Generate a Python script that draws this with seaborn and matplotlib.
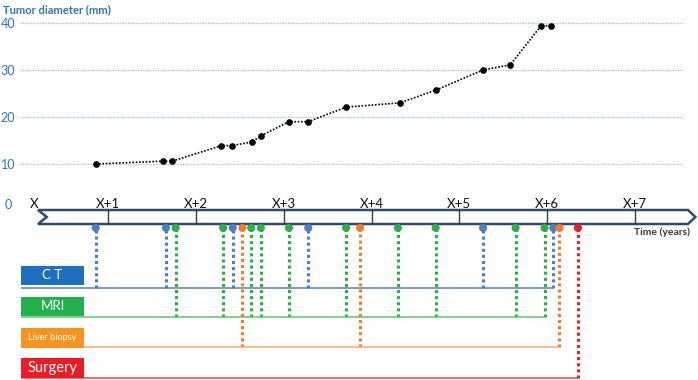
import matplotlib
matplotlib.use("Agg")
import matplotlib.pyplot as plt
import seaborn as sns
import pandas as pd
from matplotlib.patches import Polygon, Rectangle

# ---------------- data ----------------
scan_years = [0.86, 1.63, 1.73, 2.29, 2.41, 2.64, 2.74, 3.06, 3.28, 3.71,
              4.32, 4.73, 5.27, 5.58, 5.93, 6.04]
tumor_mm = [10.0, 10.6, 10.6, 13.9, 13.9, 14.7, 16.0, 19.0, 19.0, 22.1,
            23.0, 25.7, 30.0, 31.1, 39.4, 39.4]

ct_years = [0.86, 1.66, 2.42, 3.28, 5.27, 6.07]
mri_years = [1.77, 2.31, 2.63, 2.74, 3.06, 3.71, 4.30, 4.73, 5.64, 5.97]
biopsy_years = [2.53, 3.87, 6.14]
surgery_years = [6.35]

modalities = ["CT", "MRI", "Liver biopsy", "Surgery"]
modality_labels = ["C T", "MRI", "Liver biopsy", "Surgery"]
year_ticks = [0, 1, 2, 3, 4, 5, 6, 7]
year_labels = ["X", "X+1", "X+2", "X+3", "X+4", "X+5", "X+6", "X+7"]
diam_ticks = [10, 20, 30, 40]

# ---------------- style ----------------
sns.set_style("white")
plt.rcParams["font.family"] = ["Lato", "DejaVu Sans"]

dot_colors = {"CT": "#4A7FC6", "MRI": "#27B04B", "Liver biopsy": "#EE7D2A", "Surgery": "#EA1D2C"}
box_colors = {"CT": "#1F6FBF", "MRI": "#22B14C", "Liver biopsy": "#F7941D", "Surgery": "#ED1C24"}
lane_colors = {"CT": "#5B7FA8", "MRI": "#62C26F", "Liver biopsy": "#F6AD68", "Surgery": "#EF4040"}
label_sizes = {"CT": 9.5, "MRI": 9.5, "Liver biopsy": 6.6, "Surgery": 10.5}
blue_txt = "#2E75B6"

# layout (y in mm-units; below 0 is the timeline area)
lane_y = {"CT": -16.35, "MRI": -22.5, "Liver biopsy": -28.9, "Surgery": -35.45}
box_y = {"CT": (-15.75, -11.7), "MRI": (-22.4, -18.2),
         "Liver biopsy": (-29.05, -24.85), "Surgery": (-35.5, -31.2)}
box_x = (0.006, 0.73)
DOT_Y = -3.6
BAR_TOP, BAR_BOT = 0.21, -2.77
BAR_MID = (BAR_TOP + BAR_BOT) / 2

fig = plt.figure(figsize=(6.98, 3.80), dpi=100)
ax = fig.add_axes([20 / 698, 0, 678 / 698, 1])
ax.set_xlim(-0.002, 7.717)
ax.set_ylim(-35.96, 44.89)
for s in ax.spines.values():
    s.set_visible(False)

# grid lines
for v in diam_ticks:
    ax.plot([0.0, 7.546], [v, v], color="#9DC3E6", lw=0.9, ls=(0, (1, 1)), zorder=1)

ax.set_xticks([])
ax.set_yticks(diam_ticks)
ax.set_yticklabels([str(v) for v in diam_ticks])
ax.tick_params(axis="y", length=0, pad=3.5, labelsize=9, labelcolor=blue_txt)
ax.text(-0.09, 1.3, "0", color=blue_txt, fontsize=9, ha="right", va="center")
ax.text(-0.19, 42.9, "Tumor diameter (mm)", color=blue_txt, fontsize=8,
        fontweight="bold", ha="left", va="center")

# tumor diameter curve
df = pd.DataFrame({"year": scan_years, "mm": tumor_mm})
sns.lineplot(data=df, x="year", y="mm", ax=ax, color="black", lw=1.2,
             linestyle=(0, (1, 1)), marker="o", markersize=4.8,
             markeredgewidth=0, sort=False, zorder=4)
ax.set_xlabel("")
ax.set_ylabel("")

# timeline bar
poly = Polygon([(0.203, BAR_TOP), (7.603, BAR_TOP), (7.687, BAR_MID),
                (7.603, BAR_BOT), (0.203, BAR_BOT), (0.302, BAR_MID)],
               closed=True, facecolor="white", edgecolor="#2F4A6E", lw=1.8, zorder=3)
ax.add_patch(poly)
ax.vlines(year_ticks[1:], BAR_BOT, BAR_TOP, color="#3A3A3A", lw=1.0, zorder=4)
for t, lab in zip(year_ticks, year_labels):
    xt = t if t > 0 else 0.157
    ax.text(xt, 1.55, lab, fontsize=9.5, ha="center", va="center", color="#111111")
ax.text(7.626, -4.5, "Time (years)", fontsize=7.5, fontweight="bold", color="#3A3A3A",
        ha="right", va="center")

# events
events = {"CT": ct_years, "MRI": mri_years, "Liver biopsy": biopsy_years, "Surgery": surgery_years}
ev = pd.DataFrame([(m, t) for m in modalities for t in events[m]], columns=["modality", "year"])
ev["y"] = DOT_Y

for m in modalities:
    sub = ev[ev.modality == m]
    ax.vlines(sub.year, lane_y[m], DOT_Y, color=dot_colors[m], lw=2.2,
              linestyles=[(0, (1, 1))], zorder=2)
    ax.hlines(lane_y[m], box_x[0], sub.year.max(), color=lane_colors[m], lw=1.1, zorder=2)
    b0, b1 = box_y[m]
    ax.add_patch(Rectangle((box_x[0], b0), box_x[1] - box_x[0], b1 - b0,
                           facecolor=box_colors[m], edgecolor="none", zorder=3))
    ax.text((box_x[0] + box_x[1]) / 2, (b0 + b1) / 2,
            modality_labels[modalities.index(m)], color="white",
            fontsize=label_sizes[m], ha="center", va="center", zorder=4)

sns.scatterplot(data=ev, x="year", y="y", hue="modality", palette=dot_colors,
                s=34, edgecolor="none", legend=False, ax=ax, zorder=5)
ax.set_xlabel("")
ax.set_ylabel("")

fig.savefig("out.png", dpi=100)
